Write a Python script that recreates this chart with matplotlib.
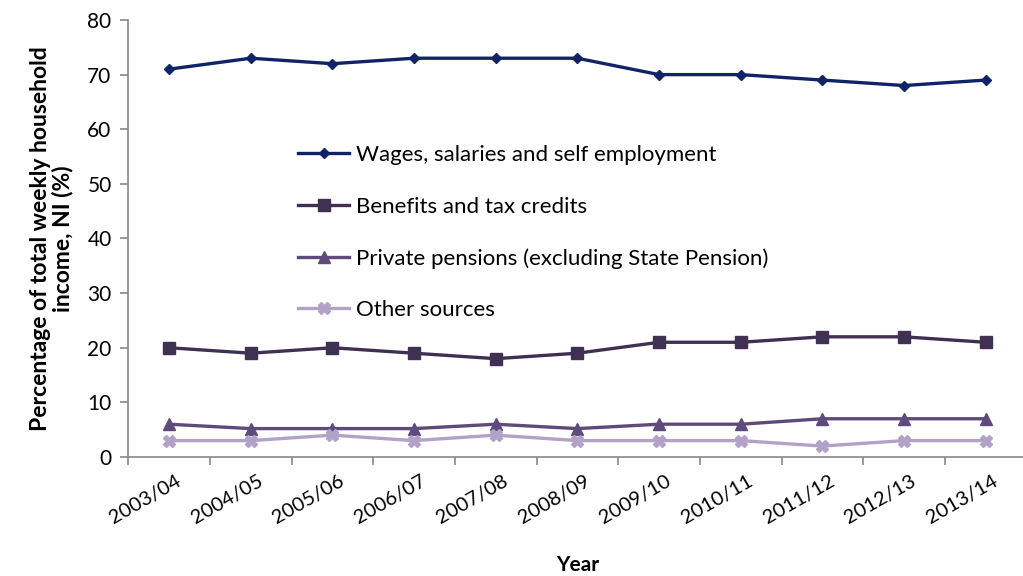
import numpy as np
import matplotlib.pyplot as plt

plt.rcParams['font.family'] = ['Lato', 'DejaVu Sans']

# ================================================================
# DATA: share of total weekly household income by source (%)
# ================================================================
years = ["2003/04", "2004/05", "2005/06", "2006/07", "2007/08", "2008/09",
         "2009/10", "2010/11", "2011/12", "2012/13", "2013/14"]
wages = [71, 73, 72, 73, 73, 73, 70, 70, 69, 68, 69]
benefits = [20, 19, 20, 19, 18, 19, 21, 21, 22, 22, 21]
pensions = [6, 5.2, 5.2, 5.2, 6, 5.2, 6, 6, 7, 7, 7]
other = [3, 3, 4, 3, 4, 3, 3, 3, 2, 3, 3]

labels = ["Wages, salaries and self employment",
          "Benefits and tax credits",
          "Private pensions (excluding State Pension)",
          "Other sources"]

# ================================================================
# PLOTTING
# ================================================================
fig = plt.figure(figsize=(10.23, 5.76), dpi=100)
ax = fig.add_axes([0.1254, 0.2066, 0.878, 0.7587])

x = np.arange(len(years))
ax.plot(x, wages, color="#0f2366", lw=2.4, marker="D", ms=5, label=labels[0])
ax.plot(x, benefits, color="#403152", lw=2.4, marker="s", ms=8, label=labels[1])
ax.plot(x, pensions, color="#5f4a7d", lw=2.4, marker="^", ms=8.5, label=labels[2])
ax.plot(x, other, color="#b3a2c7", lw=2.4, marker="X", ms=8.5, label=labels[3])

ax.set_xlim(-0.5, len(years) - 0.5)
ax.set_ylim(0, 80)
ax.set_yticks(range(0, 81, 10))
ax.tick_params(axis="y", labelsize=15, length=6, pad=6, color="#888888", width=1.2)

# category labels centred, tick marks at category boundaries
ax.set_xticks(x + 0.08)
ax.set_xticklabels(years, rotation=30, fontsize=14.5, ha="right", rotation_mode="anchor")
ax.tick_params(axis="x", which="major", length=0, pad=11)
ax.set_xticks(np.arange(-0.5, len(years)), minor=True)
ax.tick_params(axis="x", which="minor", length=6, color="#888888", width=1.2)

for side in ("top", "right"):
    ax.spines[side].set_visible(False)
for side in ("left", "bottom"):
    ax.spines[side].set_color("#888888")
    ax.spines[side].set_linewidth(1.2)

ax.set_ylabel("Percentage of total weekly household\nincome, NI (%)",
              fontsize=16.5, fontweight="bold", labelpad=10, linespacing=1.05)
ax.set_xlabel("Year", fontsize=15, fontweight="bold", labelpad=20)

ax.legend(loc="upper left", bbox_to_anchor=(0.272, 0.783), bbox_transform=fig.transFigure,
          frameon=False, fontsize=16, handlelength=2.3, handletextpad=0.3,
          labelspacing=1.42)

fig.savefig("out.png", dpi=100)
